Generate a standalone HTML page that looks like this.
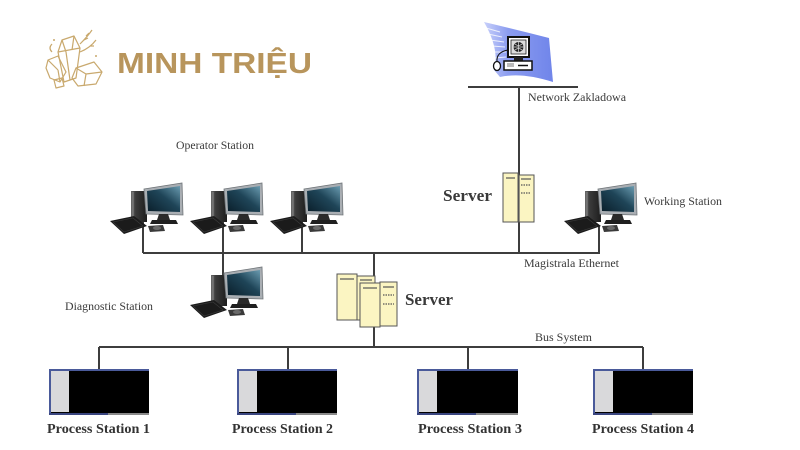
<!DOCTYPE html>
<html><head><meta charset="utf-8"><style>
html,body{margin:0;padding:0;background:#fff;}
svg{display:block;}
.lb{font-family:"Liberation Serif",serif;font-size:12px;fill:#3a3a3a;}
.ps{font-family:"Liberation Serif",serif;font-size:14px;font-weight:bold;fill:#333;}
.sv{font-family:"Liberation Serif",serif;font-size:17px;font-weight:bold;fill:#3a3a3a;}
</style></head><body>
<svg width="800" height="450" viewBox="0 0 800 450" xmlns="http://www.w3.org/2000/svg">
<defs>
<linearGradient id="scr" x1="0" y1="1" x2="1" y2="0">
<stop offset="0" stop-color="#0a1e2a"/><stop offset="0.55" stop-color="#1f4558"/><stop offset="1" stop-color="#6a9bb0"/>
</linearGradient>
<linearGradient id="tw" x1="0" y1="0" x2="1" y2="0">
<stop offset="0" stop-color="#6a6a6a"/><stop offset="0.3" stop-color="#3a3a3a"/><stop offset="1" stop-color="#1e1e1e"/>
</linearGradient>
<linearGradient id="sw" x1="0" y1="0" x2="1" y2="0">
<stop offset="0" stop-color="#c8d0fa"/><stop offset="0.35" stop-color="#8b9cf0"/><stop offset="1" stop-color="#7085ea"/>
</linearGradient>
<g id="pc">
<rect x="21" y="8" width="16" height="31" fill="url(#tw)"/>
<line x1="23" y1="9" x2="23" y2="38" stroke="#8a8a8a" stroke-width="1"/>
<polygon points="34,6 72,0 73,32 36,31" fill="#a9aeb3" stroke="#6f7478" stroke-width="0.8"/>
<polygon points="37,8 70,3 70,29 38,28" fill="url(#scr)"/>
<polygon points="49,31 58,31 60,37 47,37" fill="#2a2a2a"/>
<polygon points="42,37 66,37 68,41 40,41" fill="#1f1f1f"/>
<polygon points="0,38 24,33 37,43 14,51" fill="#1b1b1b"/>
<polygon points="3,39 23,35 33,43 14,49" fill="none" stroke="#3c3c3c" stroke-width="0.6"/>
<polygon points="38,43 53,42 55,48 40,49" fill="#3a3a3a"/>
<ellipse cx="47" cy="45" rx="4" ry="2" fill="#6a6a6a"/>
</g>
</defs>

<rect width="800" height="450" fill="#fff"/>

<!-- Logo -->
<g fill="none" stroke="#c9a96e" stroke-width="1.2" stroke-linejoin="round">
<polygon points="62,40 74,36 80,48 76,78 64,82 58,52"/>
<line x1="62" y1="40" x2="66" y2="52"/><line x1="74" y1="36" x2="72" y2="50"/>
<line x1="58" y1="52" x2="80" y2="48"/><line x1="66" y1="52" x2="70" y2="80"/>
<polygon points="48,60 58,56 66,72 60,82 50,78 46,68"/>
<line x1="48" y1="60" x2="58" y2="70"/><line x1="58" y1="70" x2="60" y2="82"/>
<polygon points="76,68 94,62 102,72 96,84 78,86 72,78"/>
<line x1="76" y1="68" x2="86" y2="74"/><line x1="86" y1="74" x2="102" y2="72"/><line x1="86" y1="74" x2="84" y2="86"/>
<polygon points="54,80 62,78 64,86 56,88"/>
<path d="M80,44 Q88,36 92,30 M84,40 l4,-2 M86,36 l3,-3 M80,52 Q90,48 96,40 M90,46 l4,0" />
<path d="M52,44 q-4,4 0,8"/>
</g>
<circle cx="54" cy="40" r="1" fill="#c9a96e"/><circle cx="96" cy="56" r="1" fill="#c9a96e"/>
<text x="117" y="73" font-family="Liberation Sans, sans-serif" font-weight="bold" font-size="29" fill="#b8955c" textLength="195" lengthAdjust="spacingAndGlyphs">MINH TRIỆU</text>

<!-- Top network icon -->
<path d="M484,22 Q518,30 549,38 L553,82 Q522,72 500,77 L494,70 Q500,50 484,22 Z" fill="url(#sw)"/>
<g stroke="#ffffff" stroke-width="1" opacity="0.8">
<line x1="486" y1="28" x2="500" y2="32"/><line x1="488" y1="34" x2="502" y2="37"/>
<line x1="490" y1="40" x2="504" y2="42"/><line x1="492" y1="46" x2="505" y2="47"/>
<line x1="494" y1="52" x2="506" y2="52"/><line x1="495" y1="58" x2="506" y2="57"/>
</g>
<rect x="508" y="37" width="21" height="20" fill="#fff" stroke="#111" stroke-width="2"/>
<rect x="511" y="40" width="15" height="14" fill="#dcdcdc" stroke="#222" stroke-width="0.8"/>
<circle cx="518.5" cy="47" r="5" fill="#222"/>
<path d="M513.5,47 h10 M518.5,42 v10 M515,44 q3.5,3 7,0 M515,50 q3.5,-3 7,0" stroke="#ddd" stroke-width="0.7" fill="none"/>
<rect x="514" y="57" width="9" height="4" fill="#222"/>
<rect x="504" y="61" width="28" height="9" fill="#fff" stroke="#111" stroke-width="1.5"/>
<rect x="507" y="63" width="7" height="4" fill="#bbb"/>
<line x1="518" y1="65.5" x2="528" y2="65.5" stroke="#111" stroke-width="1.5"/>
<path d="M497,62 Q496,52 508,50" fill="none" stroke="#111" stroke-width="1"/>
<ellipse cx="497" cy="66" rx="3.5" ry="4.5" fill="#fff" stroke="#111" stroke-width="1.3"/>

<!-- Lines -->
<g stroke="#3d3d3d" stroke-width="2" fill="none">
<line x1="468" y1="87" x2="578" y2="87"/>
<line x1="519" y1="87" x2="519" y2="253"/>
<line x1="143" y1="253" x2="600" y2="253"/>
<line x1="143" y1="222" x2="143" y2="253"/>
<line x1="223" y1="222" x2="223" y2="285"/>
<line x1="302" y1="222" x2="302" y2="253"/>
<line x1="599" y1="226" x2="599" y2="253"/>
<line x1="374" y1="253" x2="374" y2="347"/>
<line x1="99" y1="347" x2="643" y2="347"/>
<line x1="99" y1="347" x2="99" y2="370"/>
<line x1="288" y1="347" x2="288" y2="370"/>
<line x1="468" y1="347" x2="468" y2="370"/>
<line x1="643" y1="347" x2="643" y2="370"/>
</g>

<!-- PCs -->
<use href="#pc" transform="translate(110,183)"/>
<use href="#pc" transform="translate(190,183)"/>
<use href="#pc" transform="translate(270,183)"/>
<use href="#pc" transform="translate(564,183)"/>
<use href="#pc" transform="translate(190,267)"/>

<!-- Server 1 -->
<g stroke="#555" stroke-width="1" fill="#fbf5c2">
<rect x="503" y="173" width="15" height="49"/>
<rect x="518" y="175" width="16" height="47"/>
</g>
<g stroke="#555" stroke-width="1.2">
<line x1="506" y1="178" x2="515" y2="178"/>
<line x1="521" y1="179" x2="531" y2="179"/>
<line x1="521" y1="185" x2="531" y2="185" stroke-dasharray="1.5,1"/>
<line x1="521" y1="193" x2="531" y2="193" stroke-dasharray="1.5,1"/>
<line x1="519" y1="175" x2="519" y2="222"/>
</g>

<!-- Server 2 -->
<g stroke="#555" stroke-width="1" fill="#fbf5c2">
<rect x="337" y="274" width="20" height="46"/>
<rect x="357" y="276" width="18" height="44"/>
<rect x="360" y="283" width="20" height="44"/>
<rect x="380" y="282" width="17" height="44"/>
</g>
<g stroke="#555" stroke-width="1.2">
<line x1="340" y1="279" x2="354" y2="279"/>
<line x1="360" y1="280" x2="372" y2="280"/>
<line x1="363" y1="288" x2="377" y2="288"/>
<line x1="383" y1="287" x2="394" y2="287"/>
<line x1="383" y1="295" x2="394" y2="295" stroke-dasharray="1.5,1"/>
<line x1="383" y1="304" x2="394" y2="304" stroke-dasharray="1.5,1"/>
</g>

<!-- Process stations -->
<g>
<rect x="49" y="369" width="100" height="45" fill="#000"/>
<rect x="51" y="371" width="18" height="41" fill="#d9d9db"/>
<rect x="49" y="369" width="100" height="2" fill="#4a5a9a"/>
<rect x="49" y="369" width="2" height="45" fill="#4a5a9a"/>
<rect x="49" y="413" width="59" height="2" fill="#3a4680"/>
<rect x="108" y="413" width="41" height="2" fill="#8a8a8a"/>

<rect x="237" y="369" width="100" height="45" fill="#000"/>
<rect x="239" y="371" width="18" height="41" fill="#d9d9db"/>
<rect x="237" y="369" width="100" height="2" fill="#4a5a9a"/>
<rect x="237" y="369" width="2" height="45" fill="#4a5a9a"/>
<rect x="237" y="413" width="59" height="2" fill="#3a4680"/>
<rect x="296" y="413" width="41" height="2" fill="#8a8a8a"/>

<rect x="417" y="369" width="101" height="45" fill="#000"/>
<rect x="419" y="371" width="18" height="41" fill="#d9d9db"/>
<rect x="417" y="369" width="101" height="2" fill="#4a5a9a"/>
<rect x="417" y="369" width="2" height="45" fill="#4a5a9a"/>
<rect x="417" y="413" width="59" height="2" fill="#3a4680"/>
<rect x="476" y="413" width="42" height="2" fill="#8a8a8a"/>

<rect x="593" y="369" width="100" height="45" fill="#000"/>
<rect x="595" y="371" width="18" height="41" fill="#d9d9db"/>
<rect x="593" y="369" width="100" height="2" fill="#4a5a9a"/>
<rect x="593" y="369" width="2" height="45" fill="#4a5a9a"/>
<rect x="593" y="413" width="59" height="2" fill="#3a4680"/>
<rect x="652" y="413" width="41" height="2" fill="#8a8a8a"/>
</g>

<!-- Labels -->
<text class="lb" x="528" y="101" textLength="98" lengthAdjust="spacingAndGlyphs">Network Zakladowa</text>
<text class="lb" x="176" y="149" textLength="78" lengthAdjust="spacingAndGlyphs">Operator Station</text>
<text class="lb" x="644" y="205" textLength="78" lengthAdjust="spacingAndGlyphs">Working Station</text>
<text class="lb" x="524" y="267" textLength="95" lengthAdjust="spacingAndGlyphs">Magistrala Ethernet</text>
<text class="lb" x="65" y="310" textLength="88" lengthAdjust="spacingAndGlyphs">Diagnostic Station</text>
<text class="lb" x="535" y="341" textLength="57" lengthAdjust="spacingAndGlyphs">Bus System</text>
<text class="sv" x="443" y="201" textLength="49" lengthAdjust="spacingAndGlyphs">Server</text>
<text class="sv" x="405" y="305" textLength="48" lengthAdjust="spacingAndGlyphs">Server</text>
<text class="ps" x="47" y="433" textLength="103" lengthAdjust="spacingAndGlyphs">Process Station 1</text>
<text class="ps" x="232" y="433" textLength="101" lengthAdjust="spacingAndGlyphs">Process Station 2</text>
<text class="ps" x="418" y="433" textLength="104" lengthAdjust="spacingAndGlyphs">Process Station 3</text>
<text class="ps" x="592" y="433" textLength="102" lengthAdjust="spacingAndGlyphs">Process Station 4</text>
</svg>
</body></html>
